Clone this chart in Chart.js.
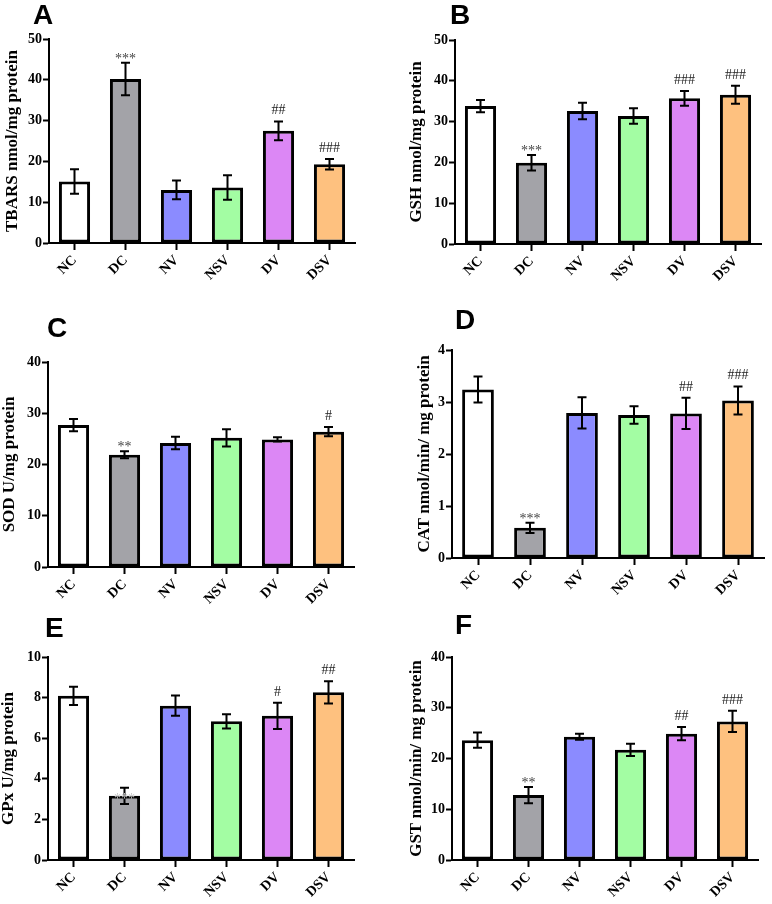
<!DOCTYPE html>
<html><head><meta charset="utf-8">
<script src="https://cdn.jsdelivr.net/npm/chart.js@4.4.0/dist/chart.umd.min.js"></script>
<style>
html,body{margin:0;padding:0;background:#fff;overflow:hidden;width:772px;height:904px;position:relative;}
.lbl{position:absolute;font-family:Arial,'Liberation Sans',sans-serif;font-weight:bold;font-size:28px;line-height:28px;color:#000;}
</style></head><body>
<script>
// ---------- data ----------
const groups = ['NC','DC','NV','NSV','DV','DSV'];

const tbarsMean = [15.1, 40.2, 13.0, 13.6, 27.5, 19.3];
const tbarsErr  = [3.0, 4.0, 2.3, 3.0, 2.3, 1.3];
const tbarsSig  = ['', '***', '', '', '##', '###'];
const tbarsTicks = [0,10,20,30,40,50];

const gshMean = [33.8, 19.9, 32.6, 31.4, 35.7, 36.6];
const gshErr  = [1.5, 1.9, 2.0, 1.9, 1.8, 2.2];
const gshSig  = ['', '***', '', '', '###', '###'];
const gshTicks = [0,10,20,30,40,50];

const sodMean = [27.7, 21.9, 24.2, 25.2, 24.9, 26.4];
const sodErr  = [1.2, 0.7, 1.2, 1.7, 0.4, 0.9];
const sodSig  = ['', '**', '', '', '', '#'];
const sodTicks = [0,10,20,30,40];

const catMean = [3.24, 0.58, 2.79, 2.75, 2.78, 3.03];
const catErr  = [0.25, 0.10, 0.30, 0.17, 0.30, 0.27];
const catSig  = ['', '***', '', '', '##', '###'];
const catTicks = [0,1,2,3,4];

const gpxMean = [8.09, 3.16, 7.60, 6.83, 7.10, 8.26];
const gpxErr  = [0.45, 0.40, 0.50, 0.35, 0.65, 0.55];
const gpxSig  = ['', '***', '', '', '#', '##'];
const gpxTicks = [0,2,4,6,8,10];

const gstMean = [23.6, 12.8, 24.3, 21.7, 24.9, 27.3];
const gstErr  = [1.5, 1.6, 0.6, 1.2, 1.3, 2.1];
const gstSig  = ['', '**', '', '', '##', '###'];
const gstTicks = [0,10,20,30,40];

// ---------- style ----------
const barColors = ['#ffffff','#a3a3a8','#8b8bff','#a3fda3','#dc87f5','#fec17f'];
const SERIF = "'Liberation Serif','Times New Roman',serif";

const errPlugin = {
  id: 'errbars',
  afterDatasetsDraw(chart, args, opts) {
    const ctx = chart.ctx, ys = chart.scales.y, meta = chart.getDatasetMeta(0);
    const vals = chart.data.datasets[0].data;
    ctx.save();
    meta.data.forEach((bar, i) => {
      const e = opts.err[i];
      const yt = ys.getPixelForValue(vals[i] + e), yb = ys.getPixelForValue(vals[i] - e);
      ctx.strokeStyle = '#000'; ctx.lineWidth = 2; ctx.lineCap = 'butt';
      ctx.beginPath();
      ctx.moveTo(bar.x, yt); ctx.lineTo(bar.x, yb);
      ctx.moveTo(bar.x - 4.5, yt); ctx.lineTo(bar.x + 4.5, yt);
      ctx.moveTo(bar.x - 4.5, yb); ctx.lineTo(bar.x + 4.5, yb);
      ctx.stroke();
      const s = opts.sig[i];
      if (s) {
        const star = s.indexOf('*') >= 0;
        ctx.font = '14px ' + SERIF;
        ctx.textAlign = 'center'; ctx.textBaseline = 'alphabetic';
        const m = ctx.measureText(s);
        const asc = m.actualBoundingBoxAscent, desc = m.actualBoundingBoxDescent;
        let center;
        if (star && opts.starOnBar) {
          center = ys.getPixelForValue(vals[i]);
          ctx.fillStyle = '#c8c8c8';
        } else {
          center = yt - (star ? 7 : 12);
          ctx.fillStyle = star ? '#444' : '#222';
        }
        ctx.fillText(s, bar.x, center + (asc - desc) / 2);
      }
    });
    ctx.restore();
  }
};

function makePanel(p) {
  const cw = 386;
  const top = p.area.top - 60;
  const ch = p.area.bottom - top + 50;
  const canvas = document.createElement('canvas');
  canvas.width = cw; canvas.height = ch;
  canvas.style.cssText = `position:absolute;left:${p.left}px;top:${top}px;width:${cw}px;height:${ch}px;`;
  document.body.appendChild(canvas);
  const W = p.area.left - p.left;
  const padRight = p.left + cw - p.area.right;
  const ticks = p.ticks;
  new Chart(canvas, {
    type: 'bar',
    data: { labels: groups, datasets: [{
      data: p.mean, backgroundColor: barColors, borderColor: '#000', borderWidth: 3,
      borderSkipped: false, categoryPercentage: 1, barPercentage: 0.61
    }]},
    options: {
      responsive: false, animation: false, devicePixelRatio: 1,
      layout: { padding: { top: 60, left: 0, right: padRight, bottom: 5 } },
      plugins: { legend: { display: false }, tooltip: { enabled: false },
        errbars: { err: p.err, sig: p.sig, starOnBar: !!p.starOnBar } },
      scales: {
        x: {
          offset: true,
          grid: { display: true, drawOnChartArea: false, offset: false, tickLength: 7, tickWidth: 2, tickColor: '#000' },
          border: { display: true, color: '#000', width: 2 },
          ticks: { minRotation: 45, maxRotation: 45, padding: 2, color: '#000',
            font: { family: SERIF, weight: 'bold', size: 14 } },
          afterFit(s) { s.height = 45; }
        },
        y: {
          min: ticks[0], max: ticks[ticks.length - 1],
          ticks: { stepSize: ticks[1] - ticks[0], padding: 1, color: '#000',
            font: { family: SERIF, weight: 'bold', size: 14 } },
          grid: { drawOnChartArea: false, tickLength: 6, tickWidth: 2, tickColor: '#000' },
          border: { color: '#000', width: 2 },
          title: { display: true, text: p.title, color: '#000',
            font: { family: SERIF, weight: 'bold', size: 17 },
            padding: { top: p.titleX - p.left - 10.2, bottom: 0 } },
          afterFit(s) { s.width = W; }
        }
      }
    },
    plugins: [errPlugin]
  });
  const d = document.createElement('div');
  d.className = 'lbl'; d.textContent = p.letter;
  d.style.left = p.letterPos[0] + 'px'; d.style.top = (p.letterPos[1] - 4) + 'px';
  document.body.appendChild(d);
}

makePanel({letter:'A', letterPos:[33,5], left:0, area:{left:49, top:39, right:355, bottom:243},
  titleX:13, title:'TBARS nmol/mg protein', mean:tbarsMean, err:tbarsErr, sig:tbarsSig, ticks:tbarsTicks});
makePanel({letter:'B', letterPos:[450,5], left:386, area:{left:455, top:40, right:761, bottom:244},
  titleX:417, title:'GSH nmol/mg protein', mean:gshMean, err:gshErr, sig:gshSig, ticks:gshTicks});
makePanel({letter:'C', letterPos:[47,318], left:0, area:{left:48, top:362, right:354, bottom:567},
  titleX:10, title:'SOD U/mg protein', mean:sodMean, err:sodErr, sig:sodSig, ticks:sodTicks});
makePanel({letter:'D', letterPos:[455,310], left:386, area:{left:452, top:350, right:764, bottom:558},
  titleX:425, title:'CAT nmol/min/ mg protein', mean:catMean, err:catErr, sig:catSig, ticks:catTicks});
makePanel({letter:'E', letterPos:[45,618], left:0, area:{left:48, top:657, right:354, bottom:860},
  titleX:9, title:'GPx U/mg protein', mean:gpxMean, err:gpxErr, sig:gpxSig, ticks:gpxTicks, starOnBar:true});
makePanel({letter:'F', letterPos:[455,615], left:386, area:{left:452, top:657, right:758, bottom:860},
  titleX:417, title:'GST nmol/min/ mg protein', mean:gstMean, err:gstErr, sig:gstSig, ticks:gstTicks});
</script>
</body></html>
